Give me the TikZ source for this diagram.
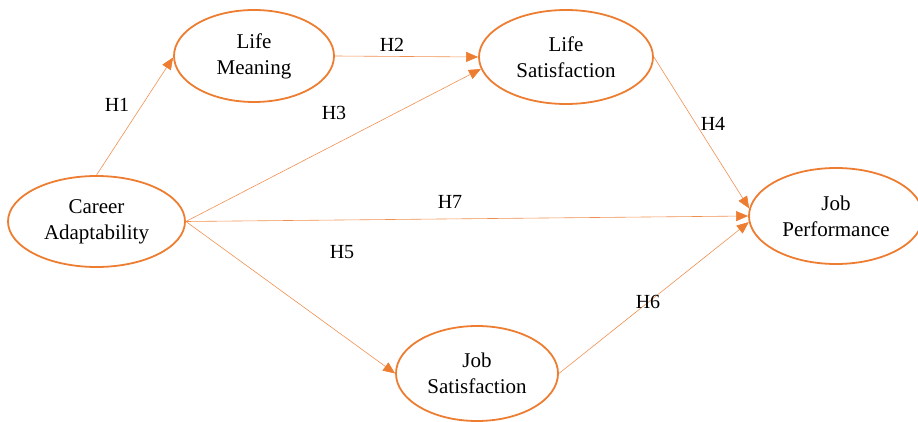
\documentclass[tikz,border=0pt]{standalone}
\usepackage{fontspec}
\setmainfont{Liberation Serif}
\usetikzlibrary{arrows.meta,shapes.geometric}
\definecolor{accent}{HTML}{ED7D31}
\begin{document}
\begin{tikzpicture}[x=1pt,y=-1pt,
  construct/.style={ellipse,draw=accent,line width=1.8pt,inner sep=0pt,
    align=center,font=\fontsize{21}{26}\selectfont},
  path/.style={draw=accent!85,line width=0.6pt,
    -{Triangle[length=12pt,width=10pt,fill=accent,color=accent]}},
  hyp/.style={font=\fontsize{20}{24}\selectfont,inner sep=0pt}]
\useasboundingbox (0,0) rectangle (918,422);
\clip (0,0) rectangle (918,422);

% constructs
\node[construct,minimum width=177pt,minimum height=91pt] (ca) at (96.5,221.5) {Career\\Adaptability};
\node[construct,minimum width=160pt,minimum height=92pt] (lm) at (254,56) {Life\\Meaning};
\node[construct,minimum width=174pt,minimum height=94pt] (ls) at (566,57) {Life\\Satisfaction};
\node[construct,minimum width=174pt,minimum height=96pt] (jp) at (836,216) {Job\\Performance};
\node[construct,minimum width=162pt,minimum height=95pt] (js) at (477,373.5) {Job\\Satisfaction};

% hypothesised paths
\draw[path] (ca.north) -- (lm.181);
\draw[path] (lm.east) -- (ls.west);
\draw[path] (ca.east) -- (ls.188);
\draw[path] (ls.east) -- (jp.175);
\draw[path] (ca.east) -- (jp.west);
\draw[path] (ca.east) -- (js.west);
\draw[path] (js.east) -- (jp.184);

% path labels
\node[hyp] (h1) at (117,105) {H1};
\node[hyp] (h2) at (392,45) {H2};
\node[hyp] (h3) at (334,113) {H3};
\node[hyp] (h4) at (713,124) {H4};
\node[hyp] (h7) at (450,202) {H7};
\node[hyp] (h5) at (342,252) {H5};
\node[hyp] (h6) at (648,302) {H6};
\end{tikzpicture}
\end{document}
